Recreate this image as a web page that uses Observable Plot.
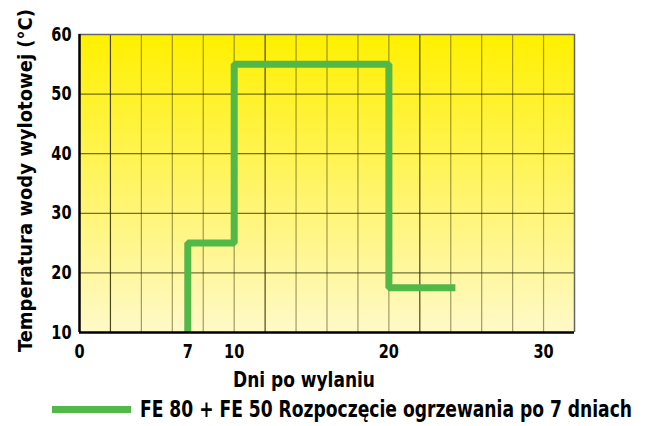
<!DOCTYPE html>
<html>
<head>
<meta charset="utf-8">
<script src="https://cdn.jsdelivr.net/npm/d3@7"></script>
<script src="https://cdn.jsdelivr.net/npm/@observablehq/plot@0.6"></script>
<style>
  body { margin: 0; background: #fff; }
  #wrap { width: 649px; font-family: "DejaVu Sans Condensed", "DejaVu Sans", sans-serif; font-weight: bold; }
  .legend { position: relative; height: 32px; font-size: 23px; color: #000; white-space: nowrap; }
  .legend .sw { position: absolute; left: 52px; top: 12px; width: 79px; height: 7px; background: #52b848; }
  .legend .tx { position: absolute; left: 140px; top: 0px; line-height: 30px; transform-origin: 0 50%; }
</style>
</head>
<body>
<div id="wrap"></div>
<script>
// Data
const days  = [7, 7, 10, 10, 20, 20, 24.3];
const temps = [10, 25, 25, 55, 55, 17.5, 17.5];
const xTicks = [0, 7, 10, 20, 30];
const yTicks = [10, 20, 30, 40, 50, 60];
const gridDays = [2, 4, 6, 8, 10, 12, 14, 16, 18, 20, 22, 24, 26, 28, 30];
const gridTemps = [20, 30, 40, 50];
const seriesName = "FE 80 + FE 50 Rozpoczęcie ogrzewania po 7 dniach";
const xLabel = "Dni po wylaniu";
const yLabel = "Temperatura wody wylotowej (°C)";

const data = days.map((d, i) => ({day: d, temp: temps[i]}));
const green = "#52b848";
const font = '"DejaVu Sans Condensed", "DejaVu Sans", sans-serif';

const plot = Plot.plot({
  width: 649,
  height: 394,
  marginLeft: 79,
  marginRight: 75,
  marginTop: 34,
  marginBottom: 62,
  style: {fontFamily: font, fontWeight: "bold", fontSize: "18px", color: "#000", background: "#fff"},
  x: {domain: [0, 32]},
  y: {domain: [10, 60]},
  marks: [
    Plot.frame({fill: "url(#bgGrad)", stroke: "none"}),
    Plot.ruleX(gridDays, {stroke: "#2a2a00", strokeOpacity: d => (d % 10 === 2 ? 0.85 : 0.45), strokeWidth: 1.2}),
    Plot.ruleY(gridTemps, {stroke: "#2a2a00", strokeOpacity: 0.65, strokeWidth: 1.2}),
    Plot.ruleY([60], {stroke: "#666", strokeWidth: 1.5}),
    Plot.ruleX([32], {stroke: "#666", strokeWidth: 1.5}),
    Plot.line(data, {x: "day", y: "temp", stroke: green, strokeWidth: 7, strokeLinejoin: "miter", strokeLinecap: "butt", curve: "linear"}),
    Plot.ruleX([0], {stroke: "#000", strokeWidth: 2.5}),
    Plot.ruleY([10], {stroke: "#000", strokeWidth: 2.5}),
    Plot.axisX(xTicks, {tickSize: 0, tickPadding: 12, fontSize: 19, label: xLabel, labelAnchor: "center", labelArrow: "none", labelOffset: 54}),
    Plot.axisY(yTicks, {tickSize: 0, tickPadding: 8, fontSize: 19, label: yLabel, labelAnchor: "center", labelArrow: "none", labelOffset: 62})
  ]
});

const svg = d3.select(plot);
const grad = svg.insert("defs", ":first-child").append("linearGradient")
  .attr("id", "bgGrad").attr("x1", 0).attr("y1", 0).attr("x2", 0).attr("y2", 1);
grad.append("stop").attr("offset", "0%").attr("stop-color", "#fff000");
grad.append("stop").attr("offset", "100%").attr("stop-color", "#fff9c8");

const wrap = document.getElementById("wrap");
wrap.appendChild(plot);

// Condense text to mimic the narrow bold typeface of the original
function condense(sel, factor) {
  sel.each(function () {
    const len = this.getComputedTextLength();
    this.setAttribute("textLength", len * factor);
    this.setAttribute("lengthAdjust", "spacingAndGlyphs");
  });
}
condense(svg.selectAll("[aria-label='x-axis tick label'] text, [aria-label='y-axis tick label'] text"), 0.85);

const xl = svg.select("[aria-label='x-axis label'] text").attr("font-size", 22).attr("dx", -23);
condense(xl, 142 / xl.node().getComputedTextLength());
svg.select("[aria-label='y-axis label'] text").attr("font-size", 20).attr("dx", 3);

const leg = document.createElement("div");
leg.className = "legend";
leg.innerHTML = `<span class="sw"></span><span class="tx">${seriesName}</span>`;
wrap.appendChild(leg);
const tx = leg.querySelector(".tx");
tx.style.transform = `scaleX(${492 / tx.getBoundingClientRect().width})`;
</script>
</body>
</html>
